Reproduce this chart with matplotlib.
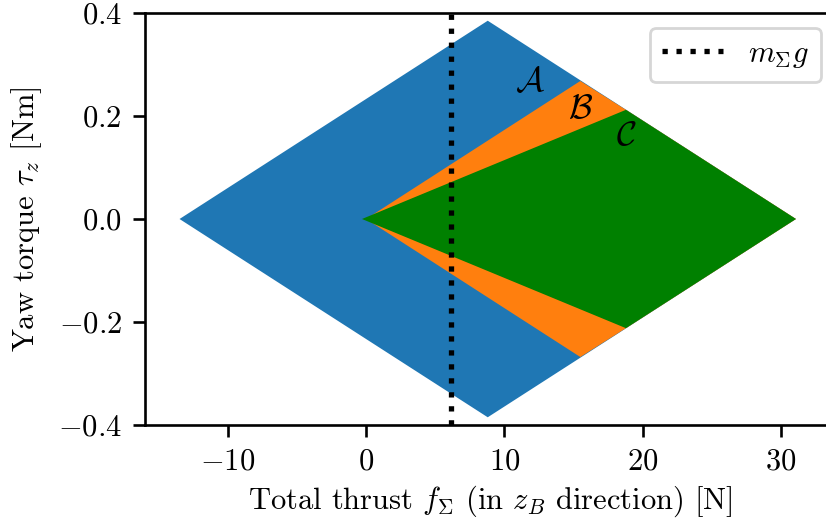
import matplotlib
matplotlib.use('Agg')
import matplotlib.pyplot as plt
from matplotlib.patches import Polygon

# Computer Modern look, everything scaled up to match the big render
plt.rcParams['font.family'] = 'serif'
plt.rcParams['font.serif'] = ['cmr10']
plt.rcParams['mathtext.fontset'] = 'cm'
plt.rcParams['axes.formatter.use_mathtext'] = True
plt.rcParams['font.size'] = 22
plt.rcParams['axes.linewidth'] = 1.9
plt.rcParams['legend.framealpha'] = 0.8

# polygon vertices (thrust [N], yaw torque [Nm])
set_a_f = [-13.5, 8.8, 31.1, 8.8]
set_a_t = [0.0, 0.385, 0.0, -0.385]
set_b_f = [0.0, 15.5, 18.8, 31.1, 18.8, 15.5]
set_b_t = [0.0, 0.268, 0.212, 0.0, -0.212, -0.268]
set_c_f = [-0.3, 18.8, 31.1, 18.8]
set_c_t = [0.0, 0.212, 0.0, -0.212]
hover_thrust = 6.12

labels = ['$\\mathcal{A}$', '$\\mathcal{B}$', '$\\mathcal{C}$']
label_f = [11.85, 15.5, 18.8]
label_t = [0.265, 0.213, 0.16]

fig = plt.figure(figsize=(8.26, 5.2), dpi=100)
ax = fig.add_axes([145 / 826, 1 - 425 / 520, (836 - 145) / 826, (425 - 13) / 520])

ax.add_patch(Polygon(list(zip(set_a_f, set_a_t)), closed=True, color='tab:blue', lw=0))
ax.add_patch(Polygon(list(zip(set_b_f, set_b_t)), closed=True, color='tab:orange', lw=0))
ax.add_patch(Polygon(list(zip(set_c_f, set_c_t)), closed=True, color='green', lw=0))

ax.plot([hover_thrust, hover_thrust], [-0.4, 0.4], 'k:', lw=3.8, label='$m_\\Sigma g$')

for s, f, t in zip(labels, label_f, label_t):
    ax.text(f, t, s, ha='center', va='center', fontsize=25)

ax.set_xlim(-16, 34)
ax.set_ylim(-0.4, 0.4)
ax.set_xticks([-10, 0, 10, 20, 30])
ax.set_yticks([-0.4, -0.2, 0.0, 0.2, 0.4])
ax.set_xlabel('Total thrust $f_\\Sigma$ (in $z_B$ direction) [N]', labelpad=6)
ax.set_ylabel('Yaw torque $\\tau_z$ [Nm]', labelpad=10)
ax.tick_params(width=1.9, length=8.6, pad=8)
leg = ax.legend(loc='upper right')
leg.get_frame().set_linewidth(2)

fig.savefig('out.png', dpi=100)
